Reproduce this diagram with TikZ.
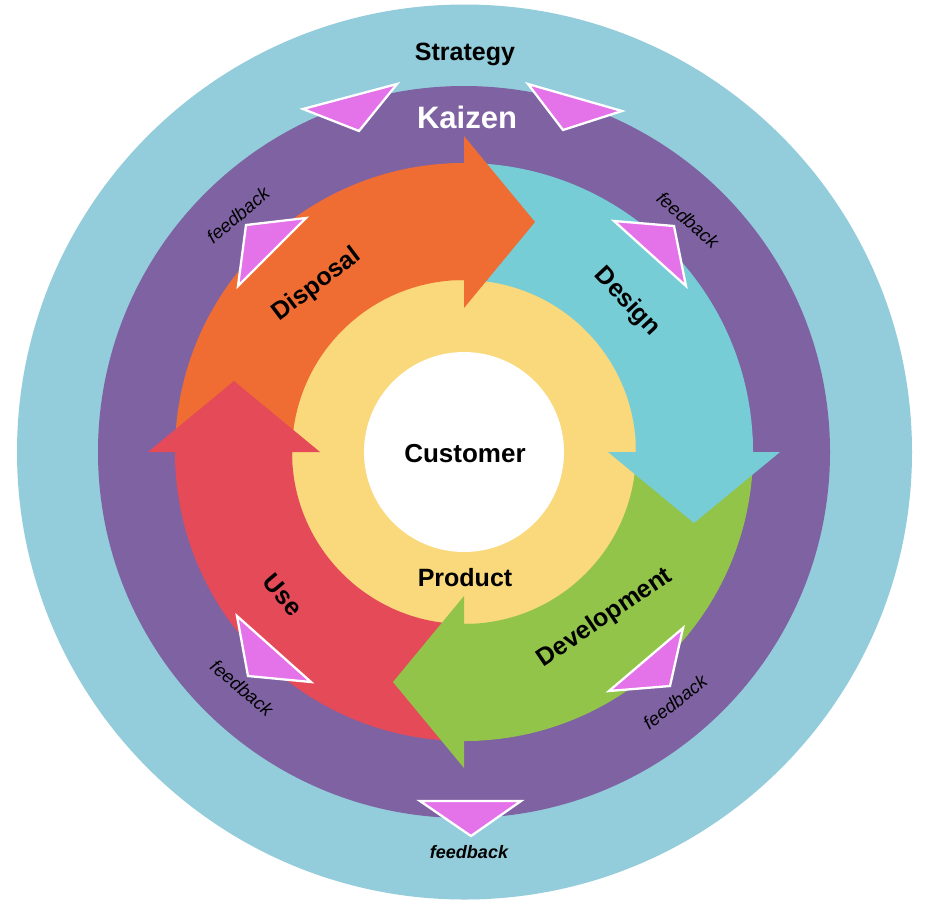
\documentclass[tikz,border=0pt]{standalone}
\usepackage{fontspec}
\setmainfont{Liberation Sans}
\usetikzlibrary{calc}
\definecolor{cstrat}{HTML}{93CCDA}
\definecolor{ckaizen}{HTML}{7F62A2}
\definecolor{corange}{HTML}{EF6D33}
\definecolor{ccyan}{HTML}{76CDD6}
\definecolor{cgreen}{HTML}{92C44A}
\definecolor{cred}{HTML}{E54A59}
\definecolor{cyellow}{HTML}{FAD87C}
\definecolor{cpink}{HTML}{E472E8}
\tikzset{
  fbtri/.style={fill=cpink, draw=white, line width=2.3pt},
  biglabel/.style={font=\fontsize{25}{30}\selectfont\bfseries, text=black, inner sep=0pt},
  fblabel/.style={font=\fontsize{18.5}{20}\selectfont\itshape, text=black, inner sep=0pt},
}
\newcommand{\bandsector}[4]{% color, start, end, (radii fixed)
  \fill[#1] (#2:289) arc[start angle=#2, end angle=#3, radius=289] -- (#3:172) arc[start angle=#3, end angle=#2, radius=172] -- cycle;}
\begin{document}
\begin{tikzpicture}[x=1pt,y=-1pt]
\useasboundingbox (0,0) rectangle (925,903);
\fill[white] (0,0) rectangle (925,903);
% concentric circles
\fill[cstrat] (464.5,452) circle[radius=447.5];
\fill[ckaizen] (464,452) circle[radius=366];
\fill[cyellow] (464,452) circle[radius=173];
\fill[white] (464,452) circle[radius=100];
% arrow bands and heads
\begin{scope}[shift={(464,452)}, yscale=-1]
  \def\hi{144}\def\ho{316}\def\hm{230}\def\hl{71}
  \bandsector{corange}{180}{90}{}
  \bandsector{ccyan}{90}{0}{}
  \bandsector{cgreen}{360}{270}{}
  \bandsector{cred}{270}{180}{}
  % heads with small overlapping patches
  \bandsector{corange}{93}{88.5}{}
  \fill[corange] (90:\hi) -- (90:\ho) -- ($(90:\hm)+(0:\hl)$) -- cycle;
  \bandsector{ccyan}{3}{-1.5}{}
  \fill[ccyan] (0:\hi) -- (0:\ho) -- ($(0:\hm)+(-90:\hl)$) -- cycle;
  \bandsector{cgreen}{273}{268.5}{}
  \fill[cgreen] (270:\hi) -- (270:\ho) -- ($(270:\hm)+(180:\hl)$) -- cycle;
  \bandsector{cred}{183}{178.5}{}
  \fill[cred] (180:\hi) -- (180:\ho) -- ($(180:\hm)+(90:\hl)$) -- cycle;
\end{scope}
% feedback triangles
\draw[fbtri] (303,109) -- (397,84) -- (359,131) -- cycle;
\draw[fbtri] (528,84) -- (622,111) -- (563,130) -- cycle;
\draw[fbtri] (246,225) -- (306,218) -- (238,286) -- cycle;
\draw[fbtri] (614,221) -- (674,226) -- (686,286) -- cycle;
\draw[fbtri] (683,628) -- (670,686) -- (609,691) -- cycle;
\draw[fbtri] (237,616) -- (248,676) -- (311,682) -- cycle;
\draw[fbtri] (420,801) -- (521,801) -- (471,836) -- cycle;
% labels
\node[biglabel] (strategy) at (465,54) {Strategy};
\node[biglabel, font=\fontsize{31}{36}\selectfont\bfseries, text=white] (kaizen) at (467,117) {Kaizen};
\node[biglabel, font=\fontsize{26}{30}\selectfont\bfseries] (customer) at (465,454) {Customer};
\node[biglabel] (product) at (465,578) {Product};
\node[biglabel, rotate=37] (disposal) at (317,285) {Disposal};
\node[biglabel, rotate=-47] (design) at (627,302) {Design};
\node[biglabel, rotate=34] (development) at (605,618) {Development};
\node[biglabel, rotate=-50] (use) at (283,595) {Use};
% feedback labels
\node[fblabel, rotate=40] (fb1) at (238,215) {feedback};
\node[fblabel, rotate=-41] (fb2) at (688,220) {feedback};
\node[fblabel, rotate=-40] (fb3) at (242,688) {feedback};
\node[fblabel, rotate=38] (fb4) at (675,702) {feedback};
\node[fblabel, font=\fontsize{18}{20}\selectfont\bfseries\itshape] (fb5) at (469,852) {feedback};
\end{tikzpicture}
\end{document}
